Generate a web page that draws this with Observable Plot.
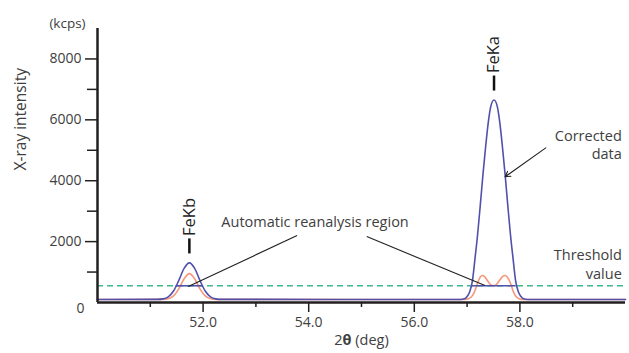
<!DOCTYPE html>
<html><head><meta charset="utf-8">
<script src="https://cdn.jsdelivr.net/npm/d3@7"></script>
<script src="https://cdn.jsdelivr.net/npm/@observablehq/plot@0.6"></script>
<style>body{margin:0;background:#fff}</style>
</head><body><div id="chart"></div>
<script>
// Corrected data (purple): 2θ (deg) and intensity (kcps)
const correctedDeg = [50.00, 51.14, 51.24, 51.34, 51.44, 51.54, 51.64, 51.74, 51.84, 51.94, 52.04, 52.14, 52.24, 52.34,
  56.88, 56.95, 57.00, 57.05, 57.10, 57.15, 57.20, 57.25, 57.30, 57.35, 57.40, 57.45, 57.51, 57.57, 57.62, 57.67, 57.72, 57.77, 57.82, 57.87, 57.92, 57.97, 58.02, 58.07, 58.14, 60.00];
const correctedVal = [100, 103, 120, 188, 376, 725, 1119, 1300, 1119, 725, 376, 188, 120, 103,
  100, 120, 200, 350, 700, 1450, 2250, 3200, 4200, 5100, 5900, 6450, 6650, 6450, 5900, 5100, 4200, 3200, 2250, 1450, 700, 350, 200, 120, 100, 100];
// Measured data (orange)
const measuredDeg = [50.00, 51.24, 51.34, 51.44, 51.54, 51.64, 51.74, 51.84, 51.94, 52.04, 52.14, 52.24,
  56.92, 57.00, 57.08, 57.14, 57.20, 57.25, 57.29, 57.33, 57.40, 57.46, 57.50, 57.54, 57.60, 57.67, 57.72, 57.76, 57.82, 57.88, 57.94, 58.00, 58.06, 60.00];
const measuredVal = [100, 103, 124, 215, 449, 780, 950, 780, 449, 215, 124, 103,
  100, 110, 180, 350, 650, 840, 885, 850, 680, 570, 555, 570, 690, 850, 885, 840, 640, 340, 170, 110, 100, 100];
// Threshold and automatic reanalysis regions
const threshold = 550;
const regionStart = [51.49, 57.10];
const regionEnd = [51.99, 57.93];
// Peaks
const peakNames = ["FeKb", "FeKa"];
const peakDeg = [51.74, 57.51];
const peakTop = [1300, 6650];
// Axis ticks
const xMajor = [52, 54, 56, 58];
const xMinor = [51, 53, 55, 57, 59];
const yMajor = [2000, 4000, 6000, 8000];
const yMinor = [1000, 3000, 5000, 7000];

const corrected = correctedDeg.map((d, i) => ({deg: d, val: correctedVal[i]}));
const measured = measuredDeg.map((d, i) => ({deg: d, val: measuredVal[i]}));
const regions = regionStart.map((s, i) => ({s, e: regionEnd[i]}));
const peaks = peakNames.map((n, i) => ({name: n, deg: peakDeg[i], top: peakTop[i]}));

const PURPLE = "#5050ad", ORANGE = "#f5987c", GREEN = "#3db98a", INK = "#231f20", TXT = "#404040";

const chart = Plot.plot({
  width: 629, height: 353,
  marginLeft: 97, marginRight: 4, marginTop: 28, marginBottom: 51,
  style: {fontFamily: "'Open Sans', sans-serif", fontSize: "14px", color: TXT, background: "#fff"},
  x: {domain: [50, 60]},
  y: {domain: [0, 9000]},
  marks: [
    Plot.ruleY([threshold], {stroke: GREEN, strokeWidth: 1.5, strokeDasharray: "6,4"}),
    Plot.line(measured, {x: "deg", y: "val", stroke: ORANGE, strokeWidth: 1.6, curve: "monotone-x"}),
    Plot.line(corrected, {x: "deg", y: "val", stroke: PURPLE, strokeWidth: 1.6, curve: "monotone-x"}),
    Plot.ruleY(regions, {y: () => threshold, x1: "s", x2: "e", stroke: PURPLE, strokeWidth: 1.6}),
    Plot.ruleY([0], {stroke: INK, strokeWidth: 2.5}),
    Plot.ruleX([50], {y1: 0, y2: 9000, stroke: INK, strokeWidth: 2.5}),
    Plot.axisX({ticks: xMajor, tickFormat: d => d.toFixed(1), tickSize: 10, tickPadding: 5, stroke: INK, strokeWidth: 1.5, label: null}),
    Plot.axisX({ticks: xMinor, tickFormat: () => "", tickSize: 5, stroke: INK, strokeWidth: 1.5, label: null}),
    Plot.axisY({ticks: yMajor, tickFormat: d => String(d), tickSize: 12, tickPadding: 4, stroke: INK, strokeWidth: 1.5, label: null}),
    Plot.axisY({ticks: yMinor, tickFormat: () => "", tickSize: 10, stroke: INK, strokeWidth: 1.5, label: null}),
    Plot.axisY({ticks: [0], tickFormat: d => String(d), tickSize: 0, tickPadding: 13, dy: 6, label: null}),
    // peak labels
    Plot.ruleX(peaks, {x: "deg", y1: "top", y2: "top", insetTop: -9, insetBottom: 24, stroke: "#111", strokeWidth: 2.5}),
    Plot.text(peaks, {x: "deg", y: "top", text: "name", rotate: -90, textAnchor: "start", dy: -27, fontSize: 16.5, fill: "#222"}),
    // annotations
    Plot.link([{}], {x1: 51.72, y1: 525, x2: 53.78, y2: 2200, stroke: "#222", strokeWidth: 1.1}),
    Plot.link([{}], {x1: 55.10, y1: 2165, x2: 57.34, y2: 557, stroke: "#222", strokeWidth: 1.1}),
    Plot.arrow([{}], {x1: 58.49, y1: 5080, x2: 57.72, y2: 4130, stroke: "#222", strokeWidth: 1.1, headLength: 8, bend: 0}),
    Plot.text(["Automatic reanalysis region"], {x: 54.12, y: 2623, textAnchor: "middle", fontSize: 14.5, fill: TXT}),
    Plot.text(["Corrected\ndata"], {x: 59.93, y: 5213, textAnchor: "end", fontSize: 14.5, lineHeight: 1.25, fill: TXT}),
    Plot.text(["Threshold\nvalue"], {x: 59.93, y: 1295, textAnchor: "end", fontSize: 14.5, lineHeight: 1.3, fill: TXT}),
    Plot.text(["X-ray intensity"], {frameAnchor: "left", rotate: -90, dx: -76, dy: 5, fontSize: 15.5, fill: TXT}),
    Plot.text(["(kcps)"], {frameAnchor: "top-left", textAnchor: "middle", dx: -30, dy: -10, fontSize: 13.5, fill: TXT}),
    Plot.text(["2θ (deg)"], {frameAnchor: "bottom", dy: 42, fontSize: 14.5, fill: TXT})
  ]
});
document.getElementById("chart").appendChild(chart);
// bold theta in the x label
chart.querySelectorAll("text").forEach(t => {
  if (t.textContent === "2θ (deg)") {
    t.textContent = "";
    const a = document.createElementNS("http://www.w3.org/2000/svg", "tspan"); a.textContent = "2";
    const b = document.createElementNS("http://www.w3.org/2000/svg", "tspan"); b.textContent = "θ"; b.setAttribute("font-weight", "bold");
    const c = document.createElementNS("http://www.w3.org/2000/svg", "tspan"); c.textContent = " (deg)";
    t.append(a, b, c);
  }
});
</script></body></html>
